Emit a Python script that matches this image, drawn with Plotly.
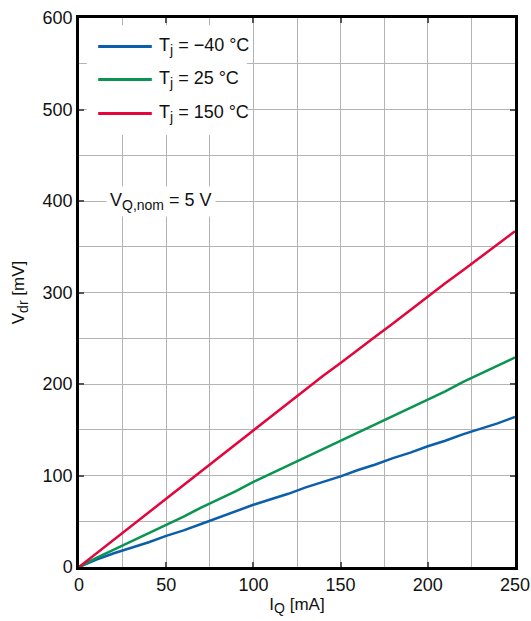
import plotly.graph_objects as go

# Output current I_Q [mA]
iq = [0, 10, 20, 30, 40, 50, 60, 70, 80, 90, 100, 110, 120, 130, 140, 150,
      160, 170, 180, 190, 200, 210, 220, 230, 240, 250]

# Dropout voltage V_dr [mV] per junction temperature
vdr_m40 = [0, 8, 15, 21, 27, 34, 40, 47, 54, 61, 68, 74, 80, 87, 93, 99,
           106, 112, 119, 125, 132, 138, 145, 151, 157, 164]
vdr_25 = [0, 10, 19, 28, 37, 46, 55, 65, 74, 83, 93, 102, 111, 120, 129, 138,
          147, 156, 165, 174, 183, 192, 202, 211, 220, 229]
vdr_150 = [0, 15, 30, 45, 60, 74, 89, 104, 119, 134, 149, 164, 179, 194, 209, 223,
           238, 252, 266, 281, 295, 310, 324, 338, 353, 367]

SUB = '<sub><span style="font-size:14px">{}</span></sub>'

series = [
    ("T" + SUB.format("j") + " = \u221240 \u00b0C", vdr_m40, "#0b5eab"),
    ("T" + SUB.format("j") + " = 25 \u00b0C", vdr_25, "#0a9451"),
    ("T" + SUB.format("j") + " = 150 \u00b0C", vdr_150, "#e3053c"),
]

FONT = "Liberation Sans, Arial, Helvetica, sans-serif"

fig = go.Figure()
for name, vals, color in series:
    fig.add_trace(go.Scatter(
        x=iq, y=vals, mode="lines", name=name,
        line=dict(color=color, width=2.5), showlegend=False,
    ))

# Key box in the upper-left corner (paper coordinates of the plot area)
fig.add_shape(type="rect", xref="paper", yref="paper",
              x0=0.018, x1=0.385, y0=0.787, y1=0.987,
              fillcolor="white", line=dict(width=0), layer="above")
row_y = [0.948, 0.888, 0.826]
for (name, vals, color), ry in zip(series, row_y):
    fig.add_shape(type="line", xref="paper", yref="paper",
                  x0=0.044, x1=0.167, y0=ry, y1=ry,
                  line=dict(color=color, width=3), layer="above")
    fig.add_annotation(x=0.178, y=ry, xref="paper", yref="paper",
                       xanchor="left", yanchor="middle", showarrow=False,
                       text=name, font=dict(family=FONT, size=18, color="#111"))

fig.add_annotation(
    x=47, y=400, xref="x", yref="y",
    text="V" + SUB.format("Q,nom") + " = 5 V", showarrow=False,
    font=dict(family=FONT, size=18, color="#111"),
    bgcolor="white", borderpad=3,
)

axis_common = dict(
    showline=True, linewidth=2.5, linecolor="black", mirror="ticks",
    ticks="inside", ticklen=5, tickwidth=2, tickcolor="#555",
    showgrid=True, gridcolor="#b4b4b4", gridwidth=1.3,
    zeroline=False, automargin=False,
    tickfont=dict(family=FONT, size=18, color="#111"),
)

fig.update_xaxes(
    range=[0, 250], dtick=50, tick0=0,
    minor=dict(dtick=25, showgrid=True, gridcolor="#b4b4b4", gridwidth=1.3),
    title=dict(text="I" + SUB.format("Q") + " [mA]",
               font=dict(family=FONT, size=17, color="#111"), standoff=4),
    **axis_common,
)
fig.update_yaxes(
    range=[0, 600], dtick=100, tick0=0,
    minor=dict(dtick=50, showgrid=True, gridcolor="#b4b4b4", gridwidth=1.3),
    title=dict(text="V" + SUB.format("dr") + " [mV]",
               font=dict(family=FONT, size=17, color="#111"), standoff=14),
    **axis_common,
)

fig.update_layout(
    width=531, height=621,
    margin=dict(l=79, r=16, t=18, b=54),
    paper_bgcolor="white", plot_bgcolor="white",
    showlegend=False,
)

fig.write_html("out.html")
